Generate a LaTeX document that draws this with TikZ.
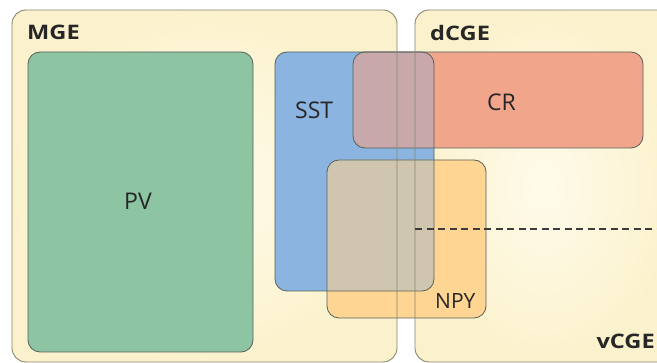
\documentclass[tikz,border=0pt]{standalone}
\usepackage{fontspec}
\setmainfont{Open Sans}
\definecolor{bgY}{HTML}{FBF2CD}
\definecolor{bgW}{HTML}{FFFBEB}
\definecolor{pvC}{HTML}{8DC4A2}
\definecolor{sstC}{HTML}{8BB4E0}
\definecolor{crC}{HTML}{F1A68B}
\definecolor{npyC}{HTML}{FED592}
\definecolor{crsst}{HTML}{C9A8AB}
\definecolor{npysst}{HTML}{D0C6AF}
\definecolor{outedge}{HTML}{86866F}
\definecolor{inedge}{HTML}{55605A}
\definecolor{txt}{HTML}{262626}
\begin{document}
\begin{tikzpicture}[x=1pt,y=-1pt,
  outerbox/.style={rounded corners=14pt},
  outerline/.style={draw=outedge, line width=0.9pt, rounded corners=14pt},
  innerbox/.style={draw=inedge, line width=0.8pt, rounded corners=12pt},
  biglabel/.style={font=\fontsize{23}{26}\selectfont, text=txt, inner sep=0pt, anchor=base west},
  boldlabel/.style={font=\fontsize{20}{24}\selectfont\bfseries\addfontfeatures{FakeStretch=1.18}, text=txt, inner sep=0pt, anchor=base west},
  dashline/.style={draw=txt!90, line width=1.1pt, dash pattern=on 7pt off 4.5pt}]
\useasboundingbox (0,0) rectangle (657,363);
\clip (0,0) rectangle (657,363);
% corner coordinates
\coordinate (mgeA) at (12,10);   \coordinate (mgeB) at (397,362);
\coordinate (dcgeA) at (415,10); \coordinate (dcgeB) at (672,362);
\coordinate (pvA) at (28,52);    \coordinate (pvB) at (253,352);
\coordinate (sstA) at (275,52);  \coordinate (sstB) at (434,291);
\coordinate (crA) at (353,52);   \coordinate (crB) at (643,148);
\coordinate (npyA) at (327,160); \coordinate (npyB) at (486,318);
\coordinate (dashL) at (415,229); \coordinate (dashR) at (660,229);
% outer regions
\shade[outerbox, inner color=bgW, outer color=bgY] (mgeA) rectangle (mgeB);
\shade[outerbox, inner color=bgW, outer color=bgY] (dcgeA) rectangle (dcgeB);
% inner boxes fills
\fill[pvC, rounded corners=12pt] (pvA) rectangle (pvB);
\fill[sstC, rounded corners=12pt] (sstA) rectangle (sstB);
\fill[crC, rounded corners=12pt] (crA) rectangle (crB);
\fill[npyC, rounded corners=12pt] (npyA) rectangle (npyB);
\begin{scope}
  \clip[rounded corners=12pt] (sstA) rectangle (sstB);
  \fill[crsst, rounded corners=12pt] (crA) rectangle (crB);
  \fill[npysst, rounded corners=12pt] (npyA) rectangle (npyB);
\end{scope}
% inner borders
\draw[innerbox] (pvA) rectangle (pvB);
\draw[innerbox] (sstA) rectangle (sstB);
\draw[innerbox] (crA) rectangle (crB);
\draw[innerbox] (npyA) rectangle (npyB);
% outer borders on top
\draw[outerline] (mgeA) rectangle (mgeB);
\draw[outerline] (dcgeA) rectangle (dcgeB);
% dashed line
\draw[dashline] (dashL) -- (dashR);
% labels
\node[boldlabel] (mge) at (27,40) {MGE};
\node[boldlabel] (dcge) at (430,41) {dCGE};
\node[boldlabel, anchor=base east] (vcge) at (655,349) {vCGE};
\node[biglabel] (sst) at (295,119) {SST};
\node[biglabel] (pv) at (124,210) {PV};
\node[biglabel] (cr) at (487,111) {CR};
\node[biglabel, font=\fontsize{21}{24}\selectfont] (npy) at (435,309) {NPY};
\end{tikzpicture}
\end{document}
